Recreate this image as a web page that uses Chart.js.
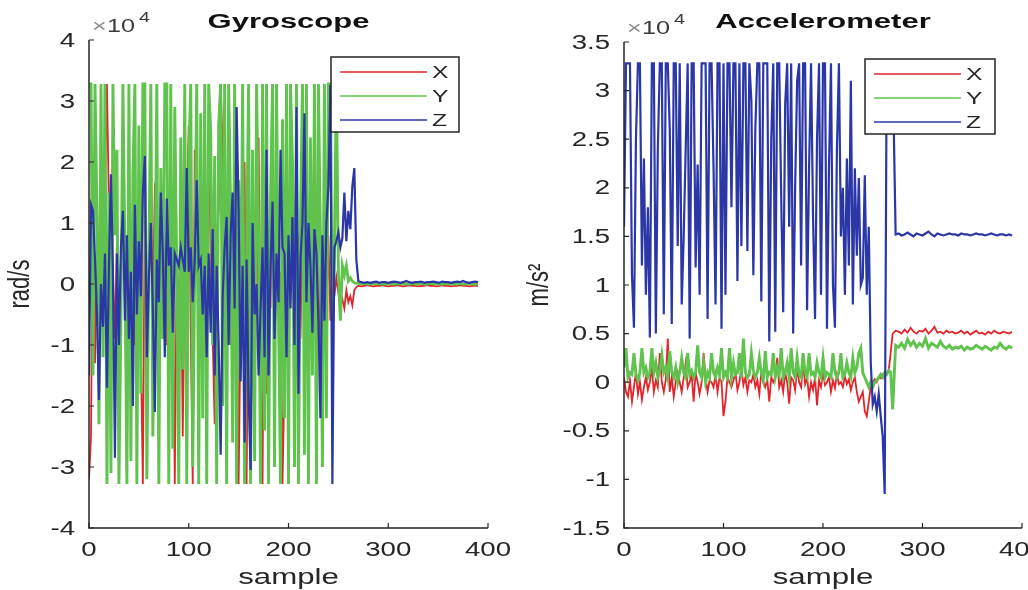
<!DOCTYPE html>
<html><head><meta charset="utf-8">
<script src="https://cdn.jsdelivr.net/npm/chart.js@4.4.1/dist/chart.umd.min.js"></script>
<style>
html,body{margin:0;padding:0;background:#fff;}
#wrap{position:relative;width:1028px;height:590px;overflow:hidden;}
.box{position:absolute;top:0;height:590px;width:514px;}
</style></head><body>
<div id="wrap">
<div class="box" style="left:0"><canvas id="c1"></canvas></div>
<div class="box" style="left:514px"><canvas id="c2"></canvas></div>
</div>
<script>
// ---------- data (values in units of 1e4) ----------
// active phase: samples 0,2,...,268 ; steady phase: samples 270,273,...,390
const ACTIVE_STEP = 2;
const STEADY_START = 270;
const STEADY_STEP = 3;
const seriesNames = ['X', 'Y', 'Z'];
const xTicks = [0, 100, 200, 300, 400];
const gyroYTicks = [-4, -3, -2, -1, 0, 1, 2, 3, 4];
const accelYTicks = [-1.5, -1, -0.5, 0, 0.5, 1, 1.5, 2, 2.5, 3, 3.5];

const gyroXActive = [
 -3.2, -2.5, 1.5, -1.3, 0.5, -0.8, 0.3, 1.0, 1.7, 3.28,
 1.2, -0.6, 0.2, -0.9, 0.7, -1.8, 0.4, 0.9, 0.4, -3.28,
 1.1, -0.5, 0.9, -1.0, 0.5, 0.2, -1.1, -3.28, 1.4, -0.7,
 0.3, 0.8, -0.4, 1.6, 1.5, -0.6, 0.4, -0.8, 0.6, -1.0,
 0.5, 1.6, 0.5, -3.28, 0.5, -0.6, 0.9, -2.5, 0.3, 1.2,
 2.6, -0.8, -3.28, 2.2, 0.4, -0.4, 0.5, -1.3, 0.7, -0.2,
 2.5, 0.4, -0.9, -2.3, 0.8, 1.2, 3.28, 2.2, 0.3, -1.2,
 0.2, -1.0, 0.5, -0.8, 1.0, -3.28, -0.6, 0.5, 2.0, -3.28,
 0.4, 1.1, -1.3, 0.6, -0.5, 2.4, -0.9, -3.28, 1.3, -1.8,
 0.7, -0.4, 2.6, -1.0, 0.3, -0.5, 0.2, -3.28, -1.5, 2.0,
 -0.8, 0.6, 1.2, -1.6, 0.2, 0.8, -0.9, 1.0, -0.3, 0.5,
 -1.2, 0.9, -0.4, 1.4, -0.7, 0.3, -1.8, 0.6, 0.2, -0.5,
 0.8, -0.6, 0.3, -0.2, 0.1, -0.15, -0.35, -0.25, -0.4, -0.1,
 -0.3, -0.2, -0.35, -0.1, -0.05
];
const gyroXSteady = [
 -0.03, -0.04, -0.03, -0.02, -0.03, -0.04, -0.03, -0.03, -0.02, -0.03,
 -0.04, -0.03, -0.03, -0.02, -0.03, -0.04, -0.03, -0.02, -0.03, -0.03,
 -0.04, -0.03, -0.03, -0.02, -0.03, -0.03, -0.04, -0.03, -0.02, -0.03,
 -0.03, -0.04, -0.03, -0.03, -0.02, -0.03, -0.03, -0.04, -0.03, -0.03,
 -0.03
];
const gyroYActive = [
 3.28, 3.28, -1.5, 3.28, 1.2, -2.3, 3.28, -1.2, 3.28, -3.28,
 1.5, -3.1, 3.28, 0.8, 2.2, -3.28, -0.6, 3.28, 0.5, -3.28,
 3.28, -2.9, 1.8, 3.28, -3.28, 2.6, -1.8, 3.28, 3.28, -3.2,
 0.4, 3.28, -2.5, -0.5, 3.28, -3.28, 1.9, -0.9, 3.28, 3.28,
 -3.28, 3.28, -2.7, 2.9, 0.2, -3.28, 2.4, -1.4, 3.28, -3.28,
 2.0, 3.28, -3.0, 0.3, 3.28, -3.28, 2.8, -2.2, 3.28, -3.28,
 3.28, 2.5, -1.0, 2.1, -3.28, 2.6, 3.28, -2.0, 3.28, -3.28,
 3.28, 1.2, -2.6, 3.28, -3.28, 1.7, -1.1, 3.28, -3.28, 0.5,
 3.28, -3.28, 2.2, -2.9, 3.28, 0.8, -3.28, 3.28, -2.4, 3.28,
 -3.28, 1.4, 3.28, -3.0, 3.28, -0.5, -3.28, 2.7, -2.2, 3.28,
 -3.28, 3.28, 2.0, -3.0, 3.28, -3.28, 1.0, 3.28, -2.8, 3.28,
 -3.28, 2.4, -1.5, 3.28, -3.28, 3.28, 0.8, -3.0, 3.28, -2.2,
 3.28, 3.28, -0.6, 0.5, 3.28, 0.2, -0.6, 0.3, 0.15, 0.3,
 0.05, 0.1, 0.05, 0.02, 0.01
];
const gyroYSteady = [
 0.01, 0.0, 0.01, 0.0, 0.0, 0.01, 0.0, 0.01, 0.0, 0.0,
 0.01, 0.0, 0.0, 0.01, 0.0, 0.01, 0.0, 0.0, 0.01, 0.0,
 0.0, 0.01, 0.0, 0.0, 0.01, 0.0, 0.01, 0.0, 0.0, 0.01,
 0.0, 0.01, 0.0, 0.0, 0.01, 0.0, 0.0, 0.01, 0.0, 0.0,
 0.0
];
const gyroZActive = [
 -1.5, 1.3, 1.2, 0.4, -0.5, -1.9, 0.0, -0.7, 0.5, -1.7,
 0.3, 1.8, 0.2, -2.85, 0.5, -1.0, 0.6, 1.2, -0.6, 0.8,
 -0.9, 0.2, -2.0, 1.3, -0.5, 0.7, -0.2, 1.5, 2.1, -1.2,
 0.1, 1.0, -0.4, -2.1, 0.4, -0.3, 1.5, 0.5, -1.2, 1.4,
 0.3, 0.6, -0.8, 0.5, 0.4, 0.3, 0.6, 0.4, 0.2, 1.9,
 0.2, 0.6, -0.3, 0.4, 1.7, 0.3, 0.4, -0.5, 0.3, -1.2,
 0.5, -0.8, 0.9, -1.5, 0.3, -1.0, -2.8, -0.2, 0.6, 1.1,
 -1.0, 0.8, 1.5, -0.4, 2.9, 1.2, -1.6, 0.3, -2.6, 0.4,
 -1.8, -3.05, 1.0, -0.5, 0.0, -1.5, -0.4, 0.6, -1.2, 2.2,
 -1.5, 0.3, 1.35, -0.9, 0.5, -0.3, 2.2, 0.6, 0.5, -1.2,
 0.8, -0.4, 1.1, -1.0, 2.9, -1.8, 0.4, 1.0, 2.8, -0.3,
 1.0, 0.3, -0.8, 0.9, 0.5, -0.6, -2.2, 0.8, -0.6, 1.0,
 1.6, 3.26, -3.28, 0.6, 0.7, 0.85, 0.6, 0.75, 1.5, 0.7,
 1.2, 0.9, 1.6, 1.9, 0.4
];
const gyroZSteady = [
 0.05, 0.03, 0.02, 0.03, 0.02, 0.03, 0.04, 0.02, 0.03, 0.03,
 0.02, 0.03, 0.04, 0.03, 0.02, 0.03, 0.05, 0.03, 0.02, 0.03,
 0.03, 0.04, 0.02, 0.03, 0.03, 0.04, 0.03, 0.02, 0.04, 0.03,
 0.03, 0.02, 0.03, 0.04, 0.03, 0.05, 0.03, 0.02, 0.03, 0.04,
 0.03
];

const accelXActive = [
 0.05, -0.1, -0.15, 0.02, -0.2, -0.05, 0.1, -0.12, 0.0, -0.18,
 -0.05, 0.05, -0.08, 0.0, 0.15, -0.1, 0.02, -0.05, 0.3, 0.0,
 -0.1, 0.02, 0.45, -0.1, 0.05, -0.15, 0.0, 0.1, 0.0, -0.1,
 0.05, 0.2, -0.05, 0.0, 0.08, -0.2, 0.1, 0.0, -0.12, 0.0,
 0.3, 0.05, -0.1, 0.02, 0.0, -0.05, 0.08, -0.1, 0.05, 0.0,
 -0.35, -0.2, 0.05, 0.0, -0.05, 0.02, 0.1, -0.08, 0.0, 0.15,
 -0.03, 0.05, -0.1, 0.02, 0.0, 0.08, -0.05, 0.02, -0.12, 0.1,
 0.0, -0.05, 0.03, -0.2, 0.05, 0.0, 0.05, 0.25, -0.05, 0.02,
 -0.1, 0.1, 0.0, -0.22, 0.05, 0.02, -0.08, 0.15, 0.0, -0.05,
 0.2, -0.02, 0.05, -0.15, 0.0, -0.08, 0.05, -0.24, 0.02, -0.05,
 0.1, -0.03, 0.0, 0.05, -0.1, 0.02, -0.06, 0.08, -0.02, 0.0,
 -0.05, 0.06, -0.02, 0.03, -0.08, 0.0, 0.05, -0.1, -0.2, -0.15,
 -0.1, -0.3, -0.35, -0.2, -0.05, 0.0, 0.03, 0.0, 0.05, 0.04,
 0.08, 0.05, 0.1, 0.12, 0.3
];
const accelXSteady = [
 0.5, 0.53, 0.52, 0.5, 0.54, 0.51, 0.56, 0.52, 0.5, 0.53,
 0.52, 0.55, 0.5, 0.53, 0.57, 0.51, 0.52, 0.5, 0.53, 0.51,
 0.52, 0.5, 0.51, 0.53, 0.5, 0.52, 0.49, 0.51, 0.53, 0.5,
 0.51, 0.49, 0.52, 0.5, 0.53, 0.51, 0.5, 0.52, 0.51, 0.5,
 0.52
];
const accelYActive = [
 0.15, 0.35, 0.05, 0.1, 0.08, 0.3, 0.08, 0.02, 0.1, 0.35,
 0.1, 0.15, 0.05, 0.1, 0.35, 0.1, 0.2, 0.05, 0.12, 0.28,
 0.1, 0.15, 0.05, 0.32, 0.1, 0.05, 0.15, 0.0, 0.1, 0.25,
 0.1, 0.05, 0.3, 0.08, 0.12, 0.05, 0.1, 0.38, 0.1, 0.05,
 0.2, 0.0, 0.1, 0.05, 0.3, 0.1, 0.05, 0.15, 0.08, 0.35,
 0.05, 0.1, 0.05, 0.35, 0.05, 0.2, 0.08, 0.1, 0.3, 0.05,
 0.45, 0.1, 0.05, 0.08, 0.3, 0.12, 0.05, 0.1, 0.25, 0.1,
 0.02, 0.32, 0.05, 0.1, 0.08, 0.3, 0.05, 0.15, 0.08, 0.35,
 0.05, 0.1, 0.2, 0.05, 0.35, 0.1, 0.05, 0.25, 0.08, 0.05,
 0.3, 0.1, 0.05, 0.3, 0.08, 0.1, 0.05, 0.2, 0.1, 0.05,
 0.25, 0.05, 0.1, 0.08, 0.05, 0.3, 0.1, 0.05, 0.1, 0.3,
 0.05, 0.08, 0.2, 0.1, 0.05, 0.25, 0.1, 0.15, 0.3, 0.35,
 0.1, 0.05, 0.0, -0.05, 0.0, -0.05, 0.0, 0.02, 0.05, 0.08,
 0.05, 0.1, 0.08, 0.12, 0.1
];
const accelYSteady = [
 -0.28, 0.38, 0.36, 0.4, 0.35, 0.44, 0.38, 0.42, 0.36, 0.4,
 0.37, 0.45, 0.35, 0.4, 0.38, 0.36, 0.42, 0.37, 0.35, 0.38,
 0.34, 0.36, 0.35, 0.37, 0.33, 0.36, 0.34, 0.35, 0.38, 0.36,
 0.34, 0.37, 0.35, 0.33, 0.36, 0.35, 0.4, 0.36, 0.34, 0.37,
 0.35
];
const accelZActive = [
 1.6, 3.28, 3.28, 3.28, 1.1, 0.56, 2.5, 3.28, 3.28, 1.2,
 2.3, 0.9, 1.8, 0.46, 3.28, 3.28, 0.5, 2.4, 3.28, 3.28,
 0.7, 3.28, 3.28, 2.6, 0.6, 3.28, 3.28, 1.4, 3.28, 0.8,
 1.5, 2.4, 3.28, 0.45, 3.28, 3.28, 1.18, 2.24, 0.9, 3.28,
 3.28, 3.28, 0.65, 3.28, 3.28, 2.2, 0.8, 3.28, 3.28, 0.55,
 3.28, 0.9, 3.28, 3.28, 1.8, 3.28, 3.28, 1.04, 3.28, 1.4,
 3.28, 3.28, 1.35, 3.28, 2.9, 1.1, 2.6, 3.28, 3.28, 0.83,
 3.28, 3.28, 3.28, 0.42, 2.5, 3.28, 0.52, 3.28, 3.28, 1.9,
 0.72, 2.86, 3.28, 1.6, 3.28, 0.5, 2.0, 3.1, 3.28, 1.2,
 3.28, 3.28, 0.74, 2.2, 3.28, 1.7, 0.65, 2.5, 3.28, 0.9,
 3.28, 3.28, 0.55, 2.2, 3.28, 1.0, 0.56, 2.4, 3.28, 1.5,
 2.0, 0.9, 2.3, 1.2, 3.1, 0.8, 2.2, 1.3, 2.1, 1.0,
 1.07, 2.13, 0.9, 1.6, 0.2, -0.23, -0.15, -0.3, -0.12, -0.35,
 -0.56, -1.15, 3.28, 3.28, 2.9
];
const accelZSteady = [
 3.28, 1.52, 1.53, 1.51, 1.52, 1.54, 1.52, 1.50, 1.53, 1.52,
 1.51, 1.53, 1.55, 1.52, 1.50, 1.53, 1.52, 1.51, 1.52, 1.53,
 1.52, 1.52, 1.51, 1.53, 1.52, 1.52, 1.51, 1.52, 1.53, 1.52,
 1.52, 1.51, 1.52, 1.53, 1.52, 1.51, 1.52, 1.52, 1.51, 1.52,
 1.51
];

// ---------- styling ----------
const COLORS = { X: '#e3252b', Y: '#5fc34d', Z: '#2b37a7' };
const WIDTHS = { X: 1.8, Y: 2.9, Z: 2.2 };
const FONT = '"Liberation Sans", Arial, Helvetica, sans-serif';
const AXIS_COLOR = '#262626';

function toPoints(active, steady) {
  const pts = active.map((v, i) => ({ x: i * ACTIVE_STEP, y: v }));
  steady.forEach((v, i) => pts.push({ x: STEADY_START + i * STEADY_STEP, y: v }));
  return pts;
}
function makeDatasets(x, y, z) {
  const vals = { X: x, Y: y, Z: z };
  const ord = { X: 3, Y: 2, Z: 1 };
  return seriesNames.map(n => ({
    label: n, data: toPoints(vals[n][0], vals[n][1]), borderColor: COLORS[n], backgroundColor: COLORS[n],
    borderWidth: WIDTHS[n], pointRadius: 0, tension: 0, fill: false, order: ord[n]
  }));
}

function txt(ctx, s, x, y, o) {
  ctx.save();
  ctx.translate(x, y);
  ctx.scale(o.sx || 1, 1);
  if (o.rot) ctx.rotate(-Math.PI / 2);
  ctx.font = o.font;
  ctx.fillStyle = o.color || AXIS_COLOR;
  ctx.textAlign = o.align || 'center';
  ctx.textBaseline = o.base || 'middle';
  ctx.fillText(s, 0, 0);
  ctx.restore();
}

const decor = {
  id: 'matlabDecor',
  afterDraw(chart, args, o) {
    const ctx = chart.ctx, a = chart.chartArea;
    const xs = chart.scales.x, ys = chart.scales.y;
    ctx.save();
    ctx.strokeStyle = AXIS_COLOR; ctx.lineWidth = 1.5;
    ctx.beginPath();
    ctx.moveTo(a.left, a.top); ctx.lineTo(a.left, a.bottom); ctx.lineTo(a.right, a.bottom);
    ctx.stroke();
    ctx.lineWidth = 1.2;
    ctx.beginPath();
    o.yTicks.forEach(v => { const p = ys.getPixelForValue(v); ctx.moveTo(a.left, p); ctx.lineTo(a.left + 5, p); });
    xTicks.forEach(v => { const p = xs.getPixelForValue(v); ctx.moveTo(p, a.bottom); ctx.lineTo(p, a.bottom - 5); });
    ctx.stroke();
    const tf = '20px ' + FONT;
    o.yTicks.forEach(v => txt(ctx, String(v), a.left - 14, ys.getPixelForValue(v) + 1, { font: tf, sx: 1.38, align: 'right' }));
    xTicks.forEach(v => txt(ctx, String(v), xs.getPixelForValue(v), a.bottom + 22, { font: tf, sx: 1.38 }));
    txt(ctx, '\u00d7', a.left + 3, a.top - 8, { font: '18px ' + FONT, sx: 1.4, align: 'left', base: 'alphabetic', color: '#8a8a8a' });
    txt(ctx, '10', a.left + 18, a.top - 8, { font: '18px ' + FONT, sx: 1.4, align: 'left', base: 'alphabetic', color: '#3a3a3a' });
    txt(ctx, '4', a.left + 50, a.top - 18, { font: '14px ' + FONT, sx: 1.4, align: 'left', base: 'alphabetic', color: '#3a3a3a' });
    txt(ctx, o.title, (a.left + a.right) / 2, 22, { font: 'bold 20px ' + FONT, sx: 1.55, color: '#111' });
    txt(ctx, 'sample', (a.left + a.right) / 2, a.bottom + 50, { font: '22px ' + FONT, sx: 1.42 });
    txt(ctx, o.ylabel, o.ylabelX, (a.top + a.bottom) / 2, { font: '22px ' + FONT, sx: 1.3, rot: true });
    const L = o.legend;
    ctx.fillStyle = '#fff';
    ctx.fillRect(L.x0, L.y0, L.x1 - L.x0, L.y1 - L.y0);
    ctx.strokeStyle = AXIS_COLOR; ctx.lineWidth = 1.5;
    ctx.strokeRect(L.x0, L.y0, L.x1 - L.x0, L.y1 - L.y0);
    seriesNames.forEach((n, i) => {
      const y = L.y0 + 15 + i * 24;
      ctx.strokeStyle = COLORS[n]; ctx.lineWidth = 1.6;
      ctx.beginPath(); ctx.moveTo(L.x0 + 9, y); ctx.lineTo(L.x0 + 96, y); ctx.stroke();
      txt(ctx, n, L.x0 + 101, y + 1, { font: '17px ' + FONT, sx: 1.45, align: 'left' });
    });
    ctx.restore();
  }
};

function makeChart(id, datasets, yMin, yMax, pad, deco) {
  return new Chart(document.getElementById(id), {
    type: 'line',
    data: { datasets },
    options: {
      responsive: true, maintainAspectRatio: false, animation: false, devicePixelRatio: 1,
      layout: { padding: pad },
      scales: {
        x: { type: 'linear', min: 0, max: 400, display: false },
        y: { type: 'linear', min: yMin, max: yMax, display: false }
      },
      plugins: { legend: { display: false }, tooltip: { enabled: false }, title: { display: false }, matlabDecor: deco }
    },
    plugins: [decor]
  });
}

makeChart('c1', makeDatasets([gyroXActive, gyroXSteady], [gyroYActive, gyroYSteady], [gyroZActive, gyroZSteady]), -4, 4,
  { left: 89, right: 26, top: 40, bottom: 62 },
  { title: 'Gyroscope', ylabel: 'rad/s', ylabelX: 21, yTicks: gyroYTicks,
    legend: { x0: 331, y0: 57, x1: 459, y1: 132 } });

makeChart('c2', makeDatasets([accelXActive, accelXSteady], [accelYActive, accelYSteady], [accelZActive, accelZSteady]), -1.5, 3.5,
  { left: 110, right: 6, top: 42, bottom: 62 },
  { title: 'Accelerometer', ylabel: 'm/s\u00b2', ylabelX: 26, yTicks: accelYTicks,
    legend: { x0: 351, y0: 59, x1: 481, y1: 134 } });
</script>
</body></html>
